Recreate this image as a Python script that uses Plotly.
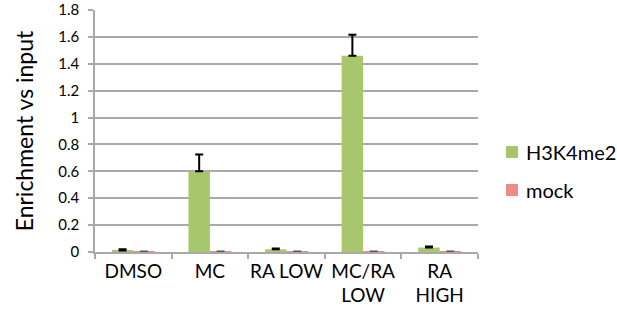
import plotly.graph_objects as go

# ChIP enrichment data
categories = ["DMSO", "MC", "RA LOW", "MC/RA<br>LOW", "RA<br>HIGH"]
h3k4me2 = [0.012, 0.60, 0.020, 1.46, 0.033]
h3k4me2_err = [0.008, 0.125, 0.006, 0.155, 0.008]
mock = [0.002, 0.002, 0.002, 0.002, 0.002]
mock_err = [0.001, 0.001, 0.001, 0.001, 0.001]
y_ticks = [0, 0.2, 0.4, 0.6, 0.8, 1, 1.2, 1.4, 1.6, 1.8]
series_names = ["H3K4me2", "mock"]
series_colors = ["#A8C66C", "#EC8B89"]

FONT = "Lato, Carlito, Calibri, sans-serif"
GRID = "#A9A9A9"

W, H = 617, 333
M = dict(l=95, r=139, t=10, b=81)
PW, PH = W - M["l"] - M["r"], H - M["t"] - M["b"]


def px_x(px):
    return (px - M["l"]) / PW


def px_y(py):
    return (H - M["b"] - py) / PH


fig = go.Figure()
fig.add_trace(go.Bar(
    x=categories, y=h3k4me2, name=series_names[0],
    marker=dict(color=series_colors[0], line=dict(width=0)),
    error_y=dict(type="data", symmetric=False, array=h3k4me2_err,
                 arrayminus=[0] * len(h3k4me2_err),
                 color="black", thickness=2, width=4),
))
fig.add_trace(go.Bar(
    x=categories, y=mock, name=series_names[1],
    marker=dict(color=series_colors[1], line=dict(width=0)),
    error_y=dict(type="data", symmetric=False, array=mock_err,
                 arrayminus=[0] * len(mock_err),
                 color="#555555", thickness=2, width=4),
))

# Legend to the right of the plot: colour swatch + label per series
for i, (name, color) in enumerate(zip(series_names, series_colors)):
    cy = 152 + 38 * i
    fig.add_shape(type="rect", xref="paper", yref="paper",
                  x0=px_x(506), x1=px_x(518), y0=px_y(cy + 6), y1=px_y(cy - 6),
                  fillcolor=color, line=dict(width=0))
    fig.add_annotation(xref="paper", yref="paper", x=px_x(524), y=px_y(cy),
                       xanchor="left", yanchor="middle", showarrow=False,
                       text=name, font=dict(size=20, family=FONT, color="black"))

fig.update_layout(
    width=W, height=H,
    margin=M,
    paper_bgcolor="white", plot_bgcolor="white",
    barmode="group", bargap=0.44, bargroupgap=0,
    font=dict(family=FONT, color="black"),
    showlegend=False,
    xaxis=dict(
        type="category", showgrid=False, automargin=False,
        showline=True, linecolor=GRID, linewidth=1.5,
        ticks="outside", tickson="boundaries", ticklen=5,
        tickcolor=GRID, tickwidth=1.5, tickangle=0,
        tickfont=dict(size=19, family=FONT),
        ticklabelstandoff=1,
    ),
    yaxis=dict(
        range=[0, 1.8], tickvals=y_ticks, automargin=False,
        ticktext=[f"{v:g}" for v in y_ticks],
        showgrid=True, gridcolor=GRID, gridwidth=1.5,
        zeroline=False,
        showline=True, linecolor=GRID, linewidth=1.5,
        ticks="outside", ticklen=5, tickcolor=GRID, tickwidth=1.5,
        tickfont=dict(size=15, family=FONT),
        ticklabelstandoff=6,
        title=dict(text="Enrichment vs input",
                   font=dict(size=23, family=FONT), standoff=18),
    ),
)

fig.write_html("out.html")
